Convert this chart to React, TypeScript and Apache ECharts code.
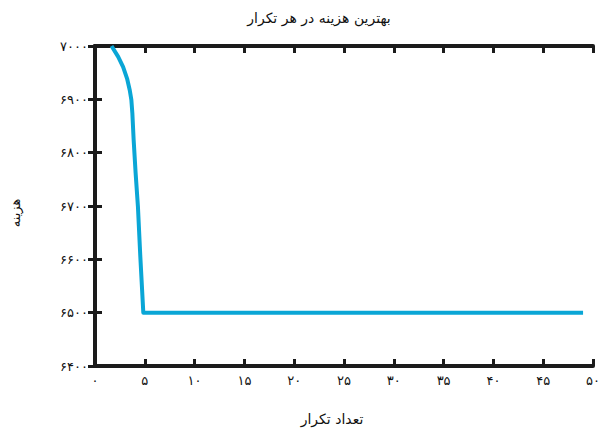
import React, { useEffect, useRef } from "react";
import * as echarts from "echarts";

const titleText = "بهترین هزینه در هر تکرار";
const xName = "تعداد تکرار";
const yName = "هزینه";

const iterations = [1.66, 2.32, 2.82, 3.22, 3.49, 3.65, 3.75, 3.88, 4.08, 4.31, 4.55, 4.85, 49];
const bestCost = [7000, 6980, 6961, 6939, 6917, 6899, 6874, 6824, 6761, 6699, 6605, 6500, 6500];

const xTicks = [0, 5, 10, 15, 20, 25, 30, 35, 40, 45, 50];
const yTicks = [6400, 6500, 6600, 6700, 6800, 6900, 7000];

const toFa = (v: number | string) =>
  String(v).replace(/[0-9]/g, (d) => "۰۱۲۳۴۵۶۷۸۹"[Number(d)]);

const FONT = "DejaVu Sans";
const AXIS_COLOR = "#1b1b1b";

export default function App() {
  const ref = useRef<HTMLDivElement>(null);
  useEffect(() => {
    if (!ref.current) return;
    const chart = echarts.init(ref.current, undefined, { renderer: "svg" });
    const axisLine = { show: true, lineStyle: { color: AXIS_COLOR, width: 4 } };
    const axisTick = { show: true, inside: true, length: 7, lineStyle: { color: AXIS_COLOR, width: 3 } };
    const xCommon = {
      type: "value" as const,
      min: xTicks[0],
      max: xTicks[xTicks.length - 1],
      interval: xTicks[1] - xTicks[0],
      splitLine: { show: false },
      axisLine,
      axisTick,
    };
    const yCommon = {
      type: "value" as const,
      min: yTicks[0],
      max: yTicks[yTicks.length - 1],
      interval: yTicks[1] - yTicks[0],
      splitLine: { show: false },
      axisLine,
      axisTick,
    };
    chart.setOption({
      animation: false,
      backgroundColor: "#ffffff",
      grid: { left: 95, right: 6, top: 46, bottom: 64, containLabel: false },
      xAxis: [
        {
          ...xCommon,
          position: "bottom",
          axisLabel: {
            show: true,
            margin: 8,
            color: "#111",
            fontFamily: FONT,
            fontSize: 13,
            formatter: (v: number) => toFa(v),
          },
        },
        { ...xCommon, position: "top", axisLabel: { show: false } },
      ],
      yAxis: [
        {
          ...yCommon,
          position: "left",
          axisLabel: {
            show: true,
            margin: 7,
            color: "#111",
            fontFamily: FONT,
            fontSize: 13,
            formatter: (v: number) => toFa(v),
          },
        },
        { ...yCommon, position: "right", axisLabel: { show: false } },
      ],
      series: [
        {
          type: "line",
          data: iterations.map((x, i) => [x, bestCost[i]]),
          showSymbol: false,
          symbol: "none",
          smooth: false,
          lineStyle: { color: "#0aa6d6", width: 4, join: "round" },
          itemStyle: { color: "#0aa6d6" },
          clip: false,
          z: 1,
        },
      ],
      graphic: [
        {
          type: "text",
          x: 319,
          y: 18,
          style: {
            text: titleText,
            fontFamily: FONT,
            fontSize: 14,
            fill: "#111",
            align: "center",
            verticalAlign: "middle",
          },
        },
        {
          type: "text",
          x: 332,
          y: 419,
          style: {
            text: xName,
            fontFamily: FONT,
            fontSize: 14,
            fill: "#111",
            align: "center",
            verticalAlign: "middle",
          },
        },
        {
          type: "text",
          x: 15,
          y: 213,
          rotation: Math.PI / 2,
          style: {
            text: yName,
            fontFamily: FONT,
            fontSize: 13,
            fill: "#111",
            align: "center",
            verticalAlign: "middle",
          },
        },
      ],
    });
    return () => chart.dispose();
  }, []);
  return (
    <div
      ref={ref}
      style={{ position: "fixed", left: 0, top: 0, width: 603, height: 430 }}
    />
  );
}
